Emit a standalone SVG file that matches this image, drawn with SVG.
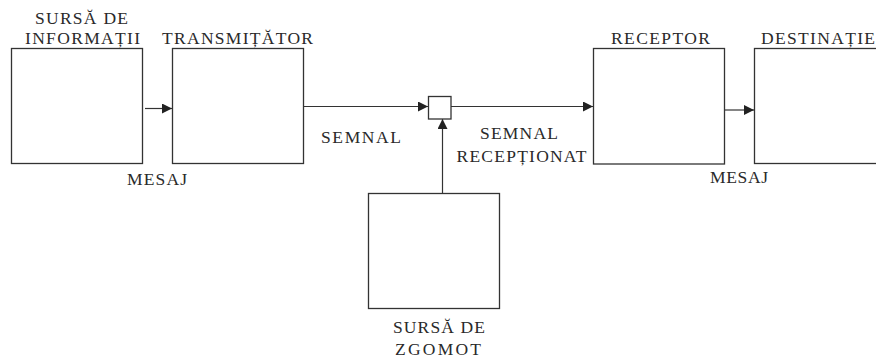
<svg xmlns="http://www.w3.org/2000/svg" width="876" height="360" viewBox="0 0 876 360">
<style>
.box{fill:#fff;stroke:#333;stroke-width:1.3}
.ln{fill:none;stroke:#333;stroke-width:1.2}
text{font-family:"Liberation Serif","Times New Roman",serif;font-size:17.5px;fill:#2a2a2a;text-anchor:middle}
</style>
<defs>
<marker id="ah" viewBox="0 0 10 10" refX="10" refY="5" markerWidth="10" markerHeight="10" markerUnits="userSpaceOnUse" orient="auto">
<path d="M0,0 L10,5 L0,10 z" fill="#222"/>
</marker>
</defs>
<rect width="876" height="360" fill="#fff"/>
<g id="connectors">
<line class="ln" x1="145" y1="108.5" x2="172" y2="108.5" marker-end="url(#ah)"/>
<line class="ln" x1="303" y1="106.5" x2="428" y2="106.5" marker-end="url(#ah)"/>
<line class="ln" x1="451" y1="106.5" x2="593" y2="106.5" marker-end="url(#ah)"/>
<line class="ln" x1="725" y1="110" x2="754" y2="110" marker-end="url(#ah)"/>
<line class="ln" x1="442.5" y1="193" x2="442.5" y2="119" marker-end="url(#ah)"/>
</g>
<g id="sursa-informatii">
<rect class="box" x="11.5" y="48.5" width="131" height="115"/>
<text x="81.5" y="23.5" textLength="93" lengthAdjust="spacing">SURSĂ DE</text>
<text x="82.5" y="43.5" textLength="115" lengthAdjust="spacing">INFORMAȚII</text>
</g>
<g id="mesaj1"><text x="157" y="185" textLength="60" lengthAdjust="spacing">MESAJ</text></g>
<g id="transmitator">
<rect class="box" x="172.5" y="48.5" width="131" height="115"/>
<text x="237.5" y="43.5" textLength="151" lengthAdjust="spacing">TRANSMIȚĂTOR</text>
</g>
<g id="semnal"><text x="361" y="143" textLength="80" lengthAdjust="spacing">SEMNAL</text></g>
<g id="sumator">
<rect class="box" x="428.5" y="96.5" width="22.5" height="22.5"/>
</g>
<g id="semnal-receptionat">
<text x="519" y="139" textLength="78" lengthAdjust="spacing">SEMNAL</text>
<text x="521.5" y="161.5" textLength="130" lengthAdjust="spacing">RECEPȚIONAT</text>
</g>
<g id="receptor">
<rect class="box" x="593.5" y="48.5" width="131" height="115.5"/>
<text x="660.5" y="44.3" textLength="99" lengthAdjust="spacing">RECEPTOR</text>
</g>
<g id="destinatie">
<rect class="box" x="754.5" y="48.5" width="130" height="115"/>
<text x="818" y="44" textLength="114" lengthAdjust="spacing">DESTINAȚIE</text>
</g>
<g id="mesaj2"><text x="739" y="183.3" textLength="58" lengthAdjust="spacing">MESAJ</text></g>
<g id="sursa-zgomot">
<rect class="box" x="368.5" y="193.5" width="131" height="115"/>
<text x="439" y="332.7" textLength="92" lengthAdjust="spacing">SURSĂ DE</text>
<text x="438" y="355" textLength="86" lengthAdjust="spacing">ZGOMOT</text>
</g>
</svg>
